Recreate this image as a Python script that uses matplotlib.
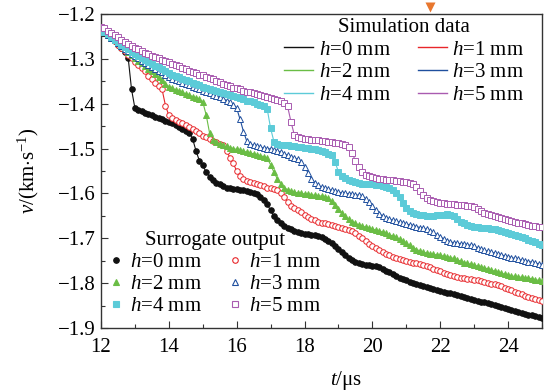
import matplotlib
matplotlib.use('Agg')
import matplotlib.pyplot as plt
import numpy as np
from matplotlib.lines import Line2D
from matplotlib.ticker import MultipleLocator
from matplotlib.transforms import offset_copy

plt.rcParams['font.family'] = 'Liberation Serif'
plt.rcParams['mathtext.fontset'] = 'custom'
plt.rcParams['mathtext.rm'] = 'Liberation Serif'
plt.rcParams['mathtext.it'] = 'Liberation Serif:italic'

# time grid, 0.1 us steps from 12 to 25
t_us = np.arange(120, 251) / 10.0

v_h0 = [-1.235, -1.241, -1.247, -1.254, -1.261, -1.268, -1.276, -1.285, -1.297, -1.368,
        -1.410, -1.414, -1.417, -1.420, -1.423, -1.426, -1.429, -1.432, -1.435, -1.438,
        -1.441, -1.444, -1.448, -1.452, -1.456, -1.460, -1.465, -1.478, -1.505, -1.527,
        -1.537, -1.553, -1.563, -1.570, -1.576, -1.580, -1.584, -1.587, -1.589, -1.590,
        -1.591, -1.592, -1.593, -1.594, -1.596, -1.598, -1.601, -1.607, -1.614, -1.624,
        -1.638, -1.651, -1.660, -1.667, -1.672, -1.676, -1.680, -1.683, -1.686, -1.688,
        -1.690, -1.691, -1.692, -1.693, -1.695, -1.698, -1.702, -1.706, -1.711, -1.717,
        -1.724, -1.731, -1.738, -1.744, -1.749, -1.753, -1.756, -1.758, -1.759, -1.760,
        -1.761, -1.762, -1.764, -1.768, -1.772, -1.776, -1.780, -1.784, -1.788, -1.791,
        -1.794, -1.797, -1.800, -1.803, -1.805, -1.807, -1.809, -1.811, -1.813, -1.815,
        -1.817, -1.819, -1.821, -1.823, -1.825, -1.827, -1.829, -1.831, -1.833, -1.835,
        -1.837, -1.839, -1.841, -1.843, -1.845, -1.847, -1.849, -1.851, -1.853, -1.855,
        -1.858, -1.860, -1.862, -1.864, -1.866, -1.868, -1.870, -1.872, -1.874, -1.876,
        -1.878]

v_h1 = [-1.235, -1.241, -1.247, -1.254, -1.261, -1.268, -1.275, -1.283, -1.291, -1.299,
        -1.307, -1.314, -1.321, -1.328, -1.338, -1.346, -1.353, -1.360, -1.368, -1.404,
        -1.426, -1.432, -1.436, -1.440, -1.444, -1.448, -1.452, -1.456, -1.461, -1.466,
        -1.471, -1.475, -1.479, -1.483, -1.486, -1.489, -1.493, -1.505, -1.520, -1.533,
        -1.550, -1.562, -1.568, -1.572, -1.575, -1.577, -1.579, -1.581, -1.584, -1.587,
        -1.589, -1.591, -1.593, -1.598, -1.608, -1.619, -1.627, -1.633, -1.638, -1.642,
        -1.647, -1.652, -1.656, -1.660, -1.663, -1.665, -1.667, -1.669, -1.671, -1.673,
        -1.675, -1.677, -1.679, -1.681, -1.684, -1.688, -1.694, -1.700, -1.706, -1.712,
        -1.717, -1.722, -1.726, -1.730, -1.734, -1.738, -1.741, -1.744, -1.746, -1.748,
        -1.750, -1.752, -1.754, -1.755, -1.757, -1.759, -1.762, -1.765, -1.768, -1.771,
        -1.774, -1.777, -1.780, -1.782, -1.784, -1.786, -1.788, -1.789, -1.790, -1.791,
        -1.793, -1.794, -1.796, -1.797, -1.799, -1.801, -1.803, -1.805, -1.807, -1.810,
        -1.813, -1.816, -1.819, -1.822, -1.825, -1.828, -1.830, -1.833, -1.835, -1.837,
        -1.840]

v_h2 = [-1.235, -1.241, -1.247, -1.253, -1.259, -1.265, -1.271, -1.278, -1.285, -1.292,
        -1.298, -1.304, -1.310, -1.316, -1.322, -1.328, -1.334, -1.340, -1.348, -1.356,
        -1.362, -1.366, -1.369, -1.372, -1.375, -1.378, -1.381, -1.384, -1.387, -1.390,
        -1.396, -1.425, -1.465, -1.482, -1.486, -1.489, -1.492, -1.495, -1.498, -1.500,
        -1.502, -1.504, -1.506, -1.508, -1.510, -1.512, -1.514, -1.516, -1.518, -1.522,
        -1.536, -1.553, -1.568, -1.579, -1.587, -1.592, -1.595, -1.597, -1.599, -1.600,
        -1.601, -1.602, -1.603, -1.604, -1.605, -1.606, -1.608, -1.611, -1.617, -1.625,
        -1.634, -1.643, -1.651, -1.658, -1.663, -1.667, -1.670, -1.673, -1.675, -1.677,
        -1.679, -1.682, -1.684, -1.686, -1.689, -1.692, -1.695, -1.698, -1.702, -1.706,
        -1.711, -1.716, -1.721, -1.725, -1.728, -1.731, -1.733, -1.735, -1.736, -1.737,
        -1.738, -1.740, -1.741, -1.743, -1.745, -1.748, -1.751, -1.754, -1.756, -1.758,
        -1.760, -1.762, -1.764, -1.766, -1.768, -1.771, -1.773, -1.776, -1.778, -1.780,
        -1.782, -1.784, -1.785, -1.786, -1.787, -1.788, -1.789, -1.790, -1.792, -1.794,
        -1.796]

v_h3 = [-1.235, -1.241, -1.247, -1.253, -1.259, -1.265, -1.271, -1.277, -1.283, -1.289,
        -1.294, -1.299, -1.304, -1.309, -1.314, -1.318, -1.322, -1.326, -1.330, -1.335,
        -1.340, -1.344, -1.347, -1.350, -1.353, -1.356, -1.359, -1.362, -1.365, -1.368,
        -1.371, -1.374, -1.377, -1.380, -1.383, -1.386, -1.389, -1.393, -1.397, -1.402,
        -1.410, -1.435, -1.462, -1.484, -1.490, -1.493, -1.495, -1.497, -1.499, -1.500,
        -1.501, -1.503, -1.505, -1.508, -1.512, -1.515, -1.518, -1.521, -1.524, -1.530,
        -1.540, -1.554, -1.567, -1.576, -1.582, -1.586, -1.589, -1.591, -1.593, -1.595,
        -1.597, -1.599, -1.600, -1.601, -1.602, -1.603, -1.604, -1.606, -1.612, -1.620,
        -1.629, -1.638, -1.645, -1.650, -1.654, -1.657, -1.660, -1.662, -1.664, -1.666,
        -1.668, -1.670, -1.672, -1.674, -1.676, -1.678, -1.680, -1.683, -1.687, -1.692,
        -1.697, -1.701, -1.705, -1.708, -1.710, -1.711, -1.712, -1.713, -1.714, -1.716,
        -1.718, -1.721, -1.724, -1.727, -1.729, -1.731, -1.733, -1.735, -1.737, -1.739,
        -1.741, -1.743, -1.745, -1.747, -1.749, -1.750, -1.752, -1.753, -1.755, -1.757,
        -1.759]

v_h4 = [-1.235, -1.240, -1.245, -1.251, -1.257, -1.262, -1.268, -1.273, -1.279, -1.284,
        -1.289, -1.294, -1.299, -1.303, -1.307, -1.311, -1.315, -1.319, -1.323, -1.327,
        -1.331, -1.335, -1.338, -1.341, -1.344, -1.347, -1.350, -1.353, -1.356, -1.359,
        -1.362, -1.365, -1.367, -1.369, -1.371, -1.374, -1.376, -1.378, -1.381, -1.383,
        -1.385, -1.388, -1.390, -1.393, -1.395, -1.397, -1.400, -1.403, -1.406, -1.412,
        -1.455, -1.485, -1.489, -1.491, -1.492, -1.493, -1.494, -1.495, -1.496, -1.497,
        -1.498, -1.499, -1.500, -1.502, -1.504, -1.506, -1.508, -1.511, -1.515, -1.530,
        -1.552, -1.561, -1.566, -1.570, -1.573, -1.575, -1.577, -1.578, -1.579, -1.580,
        -1.580, -1.581, -1.582, -1.583, -1.585, -1.588, -1.593, -1.600, -1.609, -1.622,
        -1.633, -1.639, -1.643, -1.646, -1.648, -1.649, -1.650, -1.650, -1.650, -1.649,
        -1.648, -1.647, -1.646, -1.647, -1.651, -1.657, -1.663, -1.667, -1.670, -1.672,
        -1.674, -1.675, -1.676, -1.677, -1.678, -1.679, -1.680, -1.682, -1.684, -1.686,
        -1.688, -1.690, -1.692, -1.694, -1.697, -1.700, -1.703, -1.706, -1.709, -1.712,
        -1.715]

v_h5 = [-1.228, -1.232, -1.237, -1.242, -1.247, -1.252, -1.257, -1.262, -1.267, -1.271,
        -1.275, -1.279, -1.283, -1.287, -1.290, -1.293, -1.296, -1.299, -1.302, -1.305,
        -1.308, -1.311, -1.314, -1.317, -1.320, -1.323, -1.326, -1.329, -1.332, -1.335,
        -1.337, -1.340, -1.343, -1.346, -1.349, -1.352, -1.355, -1.358, -1.361, -1.364,
        -1.366, -1.368, -1.371, -1.373, -1.375, -1.377, -1.379, -1.381, -1.383, -1.385,
        -1.387, -1.389, -1.391, -1.394, -1.398, -1.406, -1.440, -1.470, -1.475, -1.477,
        -1.478, -1.479, -1.480, -1.481, -1.482, -1.483, -1.484, -1.485, -1.486, -1.487,
        -1.488, -1.490, -1.492, -1.496, -1.510, -1.527, -1.541, -1.552, -1.558, -1.562,
        -1.564, -1.566, -1.567, -1.568, -1.569, -1.570, -1.571, -1.572, -1.573, -1.574,
        -1.575, -1.577, -1.580, -1.585, -1.595, -1.604, -1.610, -1.614, -1.617, -1.619,
        -1.621, -1.622, -1.623, -1.624, -1.624, -1.625, -1.625, -1.626, -1.627, -1.628,
        -1.631, -1.635, -1.639, -1.643, -1.646, -1.649, -1.651, -1.653, -1.655, -1.657,
        -1.659, -1.661, -1.663, -1.665, -1.667, -1.669, -1.671, -1.672, -1.673, -1.674,
        -1.675]

series = [v_h0, v_h1, v_h2, v_h3, v_h4, v_h5]
labels = [r'$h$=0 mm', r'$h$=1 mm', r'$h$=2 mm', r'$h$=3 mm', r'$h$=4 mm', r'$h$=5 mm']
colors = ['#111111', '#e8262a', '#6abd45', '#1f4f9e', '#5ccbd8', '#a95bb0']
markers = ['o', 'o', '^', '^', 's', 's']
filled = [True, False, True, False, True, False]

marker_t = 21.7  # orange marker above the frame

fig = plt.figure(figsize=(5.44, 3.91), dpi=100)
ax = fig.add_axes([101 / 544, 1 - 328 / 391, 441 / 544, 314 / 391])

for v, c, m, f in zip(series, colors, markers, filled):
    ax.plot(t_us, v, color=c, lw=0.8, zorder=2)
    ax.plot(t_us, v, ls='none', marker=m, ms=4.0, mec=c,
            mfc=c if f else 'white', mew=0.7, zorder=3)

ax.set_xlim(12, 25)
ax.set_ylim(-1.9, -1.2)
ax.xaxis.set_major_locator(MultipleLocator(2))
ax.xaxis.set_minor_locator(MultipleLocator(1))
ax.yaxis.set_major_locator(MultipleLocator(0.1))
ax.yaxis.set_minor_locator(MultipleLocator(0.05))
ax.tick_params(which='both', direction='in', top=False, right=False,
               labelsize=15, width=0.8, color='#333333')
ax.tick_params(axis='x', pad=7)
ax.tick_params(axis='y', pad=4)
ax.tick_params(which='major', length=5)
ax.tick_params(which='minor', length=3)
for sp in ax.spines.values():
    sp.set_linewidth(1.0)
    sp.set_color('#333333')

ax.set_xlabel(r'$t$/μs', fontsize=15)
ax.set_ylabel(r'$v$/(km$\cdot$s$^{-1}$)', fontsize=15)
ax.xaxis.set_label_coords(0.556, -0.13)
ax.yaxis.set_label_coords(-0.135, 0.50)

order = [0, 2, 4, 1, 3, 5]
sim_handles = [Line2D([], [], color=colors[i], lw=1.0) for i in order]
sur_handles = [Line2D([], [], ls='none', marker=markers[i], ms=4, mec=colors[i],
                      mfc=colors[i] if filled[i] else 'white', mew=0.8) for i in order]
lab = [labels[i] for i in order]

leg1 = ax.legend(sim_handles, lab, title='Simulation data', ncol=2, frameon=False,
                 loc='upper right', bbox_to_anchor=(524 / 544, 1 - 18 / 391),
                 bbox_transform=fig.transFigure, fontsize=15, title_fontsize=15,
                 handlelength=1.4, handletextpad=0.25, columnspacing=1.3,
                 labelspacing=0.15, borderpad=0, borderaxespad=0)
ax.add_artist(leg1)
ax.legend(sur_handles, lab, title='Surrogate output', ncol=2, frameon=False,
          loc='lower left', bbox_to_anchor=(110 / 544, 1 - 316 / 391),
          bbox_transform=fig.transFigure, fontsize=15, title_fontsize=15,
          handlelength=0.6, handletextpad=0.35, columnspacing=1.3,
          labelspacing=0.12, borderpad=0, borderaxespad=0)

tr = offset_copy(ax.transData, fig=fig, x=0, y=7, units='dots')
ax.plot([marker_t], [-1.2], marker='v', ms=7, color='#e8772e', mec='none',
        transform=tr, clip_on=False, zorder=5)

fig.savefig('out.png', dpi=100)
